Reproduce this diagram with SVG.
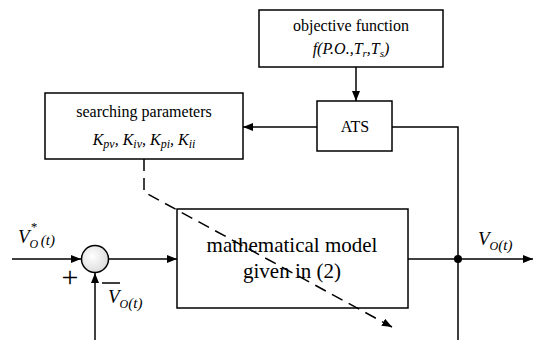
<svg xmlns="http://www.w3.org/2000/svg" width="533" height="340" viewBox="0 0 533 340" font-family="Liberation Serif, Times New Roman, serif">
<style>
.box{fill:#fff;stroke:#000;stroke-width:1.5}
.ln{fill:none;stroke:#000;stroke-width:1.5}
.i{font-style:italic}
</style>
<defs>
<marker id="ah" viewBox="0 0 10 8" refX="10" refY="4" markerWidth="10" markerHeight="8" markerUnits="userSpaceOnUse" orient="auto">
<path d="M0,0 L10,4 L0,8 Z" fill="#000"/>
</marker>
<radialGradient id="g" cx="0.4" cy="0.4" r="0.7">
<stop offset="0" stop-color="#ffffff"/>
<stop offset="1" stop-color="#d8d8d8"/>
</radialGradient>
</defs>
<rect width="533" height="340" fill="#fff"/>
<g id="objective">
<rect class="box" x="259" y="10" width="184" height="57"/>
<text font-family="Liberation Serif" x="351" y="31" font-size="16" text-anchor="middle">objective function</text>
<text font-family="Liberation Serif" class="i" x="351" y="54" font-size="16" text-anchor="middle">f(P.O.,T<tspan font-size="11" dy="3">r</tspan><tspan dy="-3">,T</tspan><tspan font-size="11" dy="3">s</tspan><tspan dy="-3">)</tspan></text>
</g>
<g id="ats">
<rect class="box" x="317" y="101" width="75" height="50"/>
<text font-family="Liberation Serif" x="355" y="132" font-size="16" text-anchor="middle">ATS</text>
</g>
<g id="search">
<rect class="box" x="45" y="93" width="198" height="66"/>
<text font-family="Liberation Serif" x="144" y="117" font-size="16" text-anchor="middle">searching parameters</text>
<text font-family="Liberation Serif" class="i" x="144" y="145" font-size="16" text-anchor="middle">K<tspan font-size="12" dy="3">pv</tspan><tspan dy="-3">, K</tspan><tspan font-size="12" dy="3">iv</tspan><tspan dy="-3">, K</tspan><tspan font-size="12" dy="3">pi</tspan><tspan dy="-3">, K</tspan><tspan font-size="12" dy="3">ii</tspan></text>
</g>
<g id="sum">
<circle cx="95" cy="259" r="13.5" fill="url(#g)" stroke="#000" stroke-width="1.5"/>
<text font-family="Liberation Serif" x="70" y="287" font-size="30" text-anchor="middle">+</text>
<path class="ln" d="M102,283 H120"/>
</g>
<g id="model">
<rect class="box" x="177" y="209" width="231" height="99"/>
<text font-family="Liberation Serif" x="292" y="252" font-size="21" text-anchor="middle">mathematical model</text>
<text font-family="Liberation Serif" x="292" y="278" font-size="21" text-anchor="middle">given in (2)</text>
</g>
<g id="connectors">
<path class="ln" d="M356,67 V101" marker-end="url(#ah)"/>
<path class="ln" d="M317,127 H243" marker-end="url(#ah)"/>
<path class="ln" d="M392,127 H458 V340"/>
<path class="ln" d="M12,259 H81" marker-end="url(#ah)"/>
<path class="ln" d="M95,340 V273" marker-end="url(#ah)"/>
<path class="ln" d="M108,259 H177" marker-end="url(#ah)"/>
<path class="ln" d="M408,259 H533" marker-end="url(#ah)"/>
<circle cx="458" cy="259" r="4" fill="#000"/>
<path class="ln" d="M144,159 V192 L392,327" stroke-dasharray="12,7" marker-end="url(#ah)"/>
</g>
<g id="labels">
<text font-family="Liberation Serif" class="i" x="18" y="243" font-size="19">V<tspan font-size="12" dy="5">O</tspan><tspan font-size="13" dx="-8" dy="-17">*</tspan><tspan font-size="15" dx="4" dy="14">(t)</tspan></text>
<text font-family="Liberation Serif" class="i" x="108" y="303" font-size="19">V<tspan font-size="12" dy="5">O</tspan><tspan font-size="15">(t)</tspan></text>
<text font-family="Liberation Serif" class="i" x="478" y="245" font-size="19">V<tspan font-size="12" dy="5">O</tspan><tspan font-size="15">(t)</tspan></text>
</g>
</svg>
